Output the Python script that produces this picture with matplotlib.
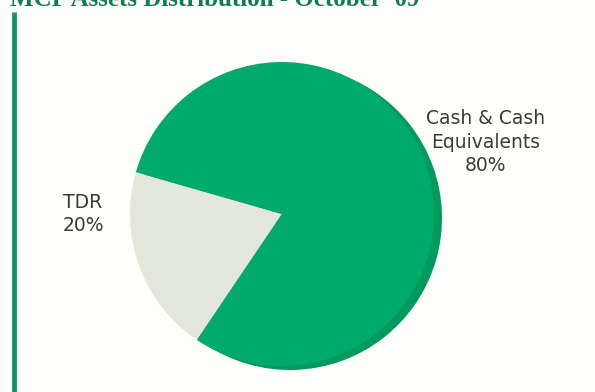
import matplotlib.pyplot as plt

# asset split, percent
categories = ['TDR', 'Cash & Cash\nEquivalents']
shares = [20, 80]
title = "MCP Assets Distribution - October '09"

colors = ['#e3e6da', '#00aa6a']
rim_color = '#009a5c'

W, H = 595, 392
fig = plt.figure(figsize=(W / 100, H / 100), dpi=100, facecolor='#fefefb')
ax = fig.add_axes([0, 0, 1, 1])
ax.set_facecolor('#fefefb')

# darker copy underneath gives the disc a bit of thickness
ax.pie(shares, colors=[rim_color, rim_color], startangle=164, radius=152,
       center=(290, 174), wedgeprops=dict(linewidth=0))
# small explode leaves a thin light gap between the slices
ax.pie(shares, colors=colors, startangle=164, radius=152, center=(282, 178),
       explode=[0.012, 0.0], wedgeprops=dict(linewidth=0))

ax.set_xlim(0, W)
ax.set_ylim(0, H)
ax.set_aspect('equal')
ax.axis('off')

label_pos = [(83, 178), (486, 250)]
for name, val, (x, y) in zip(categories, shares, label_pos):
    ax.text(x, y, f'{name}\n{val}%', ha='center', va='center', fontsize=13.5,
            color='#3a3a3a', family='DejaVu Sans', linespacing=1.3)

# title sits partly above the top edge
fig.text(10 / W, 1 - 6 / H, title, ha='left', va='baseline', fontsize=18,
         fontweight='bold', family='Liberation Serif', color='#137a52')

# green rule down the left side
ax.plot([14, 14], [0, H - 12], color='#0a9a64', linewidth=3.5,
        solid_capstyle='butt')

fig.savefig('out.png', dpi=100, facecolor=fig.get_facecolor())
